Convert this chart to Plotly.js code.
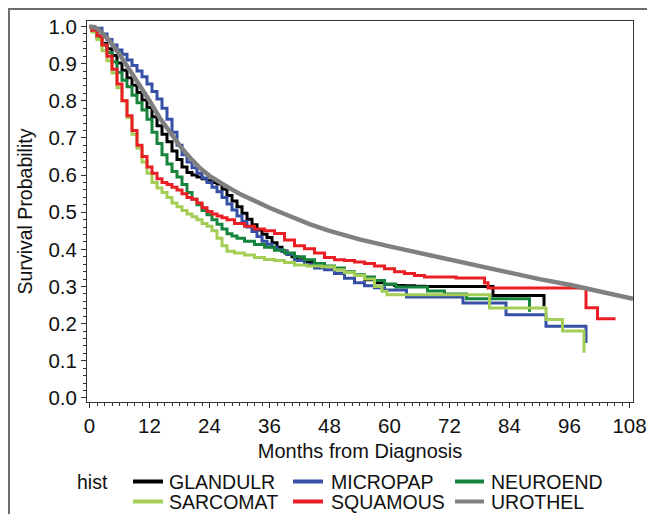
<!DOCTYPE html>
<html>
<head>
<meta charset="utf-8">
<script src="https://cdn.plot.ly/plotly-3.0.1.min.js"></script>
<style>
  html, body { margin: 0; padding: 0; background: #ffffff; }
  #wrap { position: relative; width: 647px; height: 514px; overflow: hidden; }
  #chart { position: absolute; left: 0; top: 0; width: 647px; height: 514px; }
  #frame { position: absolute; left: 8px; top: 8px; width: 660px; height: 520px;
           border-left: 2px solid #6e6e6e; border-top: 2px solid #6e6e6e; pointer-events: none; z-index: 5; }
</style>
</head>
<body>
<div id="wrap">
  <div id="chart"></div>
  <div id="frame"></div>
</div>
<script>
// ---------------- data ----------------
var seriesNames = ["GLANDULR", "MICROPAP", "NEUROEND", "SARCOMAT", "SQUAMOUS", "UROTHEL"];
var legendTitle = "hist";
var xTitle = "Months from Diagnosis";
var yTitle = "Survival Probability";
var xTickVals = [0, 12, 24, 36, 48, 60, 72, 84, 96, 108];
var yTickVals = [0.0, 0.1, 0.2, 0.3, 0.4, 0.5, 0.6, 0.7, 0.8, 0.9, 1.0];

var glandulrMonths = [0,1,2,3,4,5,6,7,8,9,10,11,12,13,14,15,16,17,18,19,20,21,22,23,24,25,26,27,28,29,30,31,32,33,34,35,36,37,38,39,40,41,42,44,46,48,50,52,54,56,58,60,62,64,66,68,80.7,80.7,90.9,90.9];
var glandulrSurv   = [1,0.99,0.975,0.955,0.94,0.922,0.902,0.882,0.862,0.842,0.822,0.802,0.782,0.757,0.733,0.71,0.69,0.665,0.642,0.622,0.607,0.6,0.595,0.59,0.585,0.58,0.576,0.562,0.545,0.53,0.515,0.497,0.481,0.466,0.452,0.441,0.432,0.418,0.406,0.396,0.387,0.38,0.372,0.365,0.36,0.354,0.345,0.338,0.33,0.318,0.31,0.306,0.303,0.302,0.301,0.3,0.3,0.276,0.276,0.247];

var micropapMonths = [0,2,3,4,5,6,7,8,9,10,11,12,13,14,15,16,17,18,19,20,21,22,23,24,25,26,27,28,29,30,31,32,33,34,35,36,37,38,39,40,42,44,46,48,50,52,54,56,58,60,63.4,63.4,74.7,74.7,83.3,83.3,91.3,91.3,99.3,99.3];
var micropapSurv   = [1,0.995,0.98,0.965,0.95,0.937,0.925,0.91,0.895,0.88,0.865,0.845,0.825,0.805,0.78,0.75,0.715,0.68,0.655,0.635,0.62,0.605,0.592,0.58,0.567,0.555,0.54,0.522,0.506,0.49,0.475,0.46,0.448,0.435,0.422,0.414,0.406,0.4,0.394,0.386,0.37,0.36,0.35,0.345,0.335,0.322,0.31,0.302,0.297,0.291,0.291,0.272,0.272,0.256,0.256,0.224,0.224,0.193,0.193,0.148];

var neuroendMonths = [0,1,2,3,4,5,6,7,8,9,10,11,12,13,14,15,16,17,18,19,20,21,22,23,24,25,26,27,28,29,30,32,34,36,38,40,42,44,46,48,50,52,54,56,58,60,62.6,67.6,67.6,71,71,75.4,75.4,88,88];
var neuroendSurv   = [1,0.99,0.97,0.95,0.93,0.905,0.876,0.855,0.838,0.815,0.795,0.775,0.75,0.715,0.685,0.655,0.63,0.61,0.595,0.575,0.553,0.535,0.52,0.505,0.493,0.48,0.468,0.455,0.442,0.436,0.43,0.422,0.413,0.406,0.398,0.39,0.38,0.372,0.362,0.355,0.35,0.34,0.332,0.326,0.316,0.306,0.299,0.299,0.288,0.288,0.28,0.28,0.267,0.267,0.232];

var sarcomatMonths = [0,1,2,3,4,5,6,7,8,9,10,11,12,13,14,15,16,17,18,19,20,21,22,23,24,25,26,27,28,30,32,34,36,38,40,42,45,48,50,52,54,56,58,59,60,80,80,91.3,91.3,94.6,94.6,98.9,98.9];
var sarcomatSurv   = [1,0.985,0.965,0.935,0.908,0.875,0.835,0.8,0.755,0.71,0.672,0.635,0.605,0.58,0.565,0.553,0.54,0.525,0.515,0.505,0.495,0.488,0.48,0.47,0.462,0.45,0.43,0.41,0.395,0.39,0.385,0.378,0.373,0.37,0.365,0.358,0.355,0.353,0.345,0.338,0.33,0.32,0.3,0.287,0.278,0.278,0.242,0.242,0.211,0.211,0.18,0.18,0.122];

var squamousMonths = [0,1,2,3,4,5,6,7,8,9,10,11,12,13,14,15,16,17,18,19,20,21,22,23,24,25,26,27,28,30,32,34,36,38,40,42,44,46,48,50,52,54,56,58,60,62,64,66,68,78.6,79.4,80,99.3,99.3,101.6,101.6,105.2];
var squamousSurv   = [1,0.99,0.975,0.95,0.92,0.885,0.845,0.8,0.76,0.72,0.68,0.65,0.622,0.605,0.59,0.58,0.575,0.567,0.56,0.55,0.54,0.535,0.525,0.512,0.502,0.495,0.49,0.485,0.48,0.47,0.462,0.455,0.45,0.443,0.425,0.41,0.402,0.39,0.378,0.372,0.37,0.366,0.362,0.355,0.348,0.34,0.335,0.33,0.326,0.323,0.31,0.296,0.296,0.243,0.243,0.213,0.213];

var urothelMonths = [0,1,2,3,4,6,8,10,12,14,16,18,20,22,24,26,28,30,32,36,40,44,48,54,60,66,72,78,84,90,96,100,104,108.7];
var urothelSurv   = [1,0.998,0.99,0.978,0.962,0.925,0.885,0.842,0.8,0.755,0.715,0.68,0.648,0.62,0.598,0.58,0.565,0.55,0.537,0.512,0.49,0.468,0.45,0.427,0.408,0.39,0.372,0.353,0.336,0.32,0.305,0.293,0.281,0.267];

// ---------------- styling ----------------
var colors = ["#000000", "#3650a6", "#16843c", "#a3cd55", "#ea1f25", "#808080"];
var widths = [3, 3, 3, 3, 3, 4.5];
var lineShapes = ["hvh", "hvh", "hvh", "hvh", "hvh", "linear"];
var monthsList = [glandulrMonths, micropapMonths, neuroendMonths, sarcomatMonths, squamousMonths, urothelMonths];
var survList = [glandulrSurv, micropapSurv, neuroendSurv, sarcomatSurv, squamousSurv, urothelSurv];

var FONT = "Liberation Sans, Arial, Helvetica, sans-serif";
var TXT = "#111111";

var traces = seriesNames.map(function (name, i) {
  return {
    type: "scatter", mode: "lines", name: name,
    x: monthsList[i], y: survList[i],
    line: { color: colors[i], width: widths[i], shape: lineShapes[i] },
    showlegend: false, hoverinfo: "skip"
  };
});

// plot area in pixels
var W = 647, H = 514, L = 87, R = 633, T = 21, B = 402;
function px2x(px) { return (px - L) / (R - L); }
function py2y(py) { return (B - py) / (B - T); }

// custom legend (3 columns x 2 rows)
var colLine = [[133, 163], [293, 323], [455, 484]];
var colText = [168, 330, 490];
var rowY = [481.5, 501.5];
var LEGFONT = 19.5;
var shapes = [];
var annotations = [{
  xref: "paper", yref: "paper", x: px2x(75), y: py2y(rowY[0]),
  xanchor: "left", yanchor: "middle", showarrow: false,
  text: legendTitle, font: { family: FONT, size: LEGFONT, color: TXT }
}];
seriesNames.forEach(function (name, i) {
  var c = i % 3, r = Math.floor(i / 3);
  shapes.push({
    type: "line", xref: "paper", yref: "paper",
    x0: px2x(colLine[c][0]), x1: px2x(colLine[c][1]),
    y0: py2y(rowY[r]), y1: py2y(rowY[r]),
    line: { color: colors[i], width: 4 }
  });
  annotations.push({
    xref: "paper", yref: "paper", x: px2x(colText[c] - 1), y: py2y(rowY[r]),
    xanchor: "left", yanchor: "middle", showarrow: false,
    text: name, font: { family: FONT, size: LEGFONT, color: TXT }
  });
});

var layout = {
  width: W, height: H,
  margin: { l: L, r: W - R, t: T, b: H - B, pad: 0 },
  paper_bgcolor: "rgba(0,0,0,0)", plot_bgcolor: "#ffffff",
  showlegend: false,
  font: { family: FONT, size: 19, color: TXT },
  xaxis: {
    range: [-0.5, 108.7], tickmode: "array", tickvals: xTickVals,
    ticktext: xTickVals.map(String),
    ticks: "outside", ticklen: 5, tickwidth: 1, tickcolor: "#333",
    minor: { dtick: 1.5, tick0: 0, ticks: "outside", ticklen: 3, tickcolor: "#333", tickwidth: 1, showgrid: false },
    showline: true, linecolor: "#333", linewidth: 1, mirror: true,
    showgrid: false, zeroline: false,
    tickfont: { family: FONT, size: 20.5, color: TXT },
    title: { text: xTitle, font: { family: FONT, size: 20, color: TXT }, standoff: 8 }
  },
  yaxis: {
    range: [-0.0108, 1.0148], tickmode: "array", tickvals: yTickVals,
    ticktext: yTickVals.map(function (v) { return v.toFixed(1); }),
    ticks: "outside", ticklen: 5, tickwidth: 1, tickcolor: "#333",
    minor: { dtick: 0.02, tick0: 0, ticks: "outside", ticklen: 3, tickcolor: "#333", tickwidth: 1, showgrid: false },
    showline: true, linecolor: "#333", linewidth: 1, mirror: true,
    showgrid: false, zeroline: false,
    tickfont: { family: FONT, size: 20.5, color: TXT },
    title: { text: yTitle, font: { family: FONT, size: 19.5, color: TXT }, standoff: 10 }
  },
  shapes: shapes,
  annotations: annotations
};

Plotly.newPlot("chart", traces, layout, { displayModeBar: false, staticPlot: true });
</script>
</body>
</html>
